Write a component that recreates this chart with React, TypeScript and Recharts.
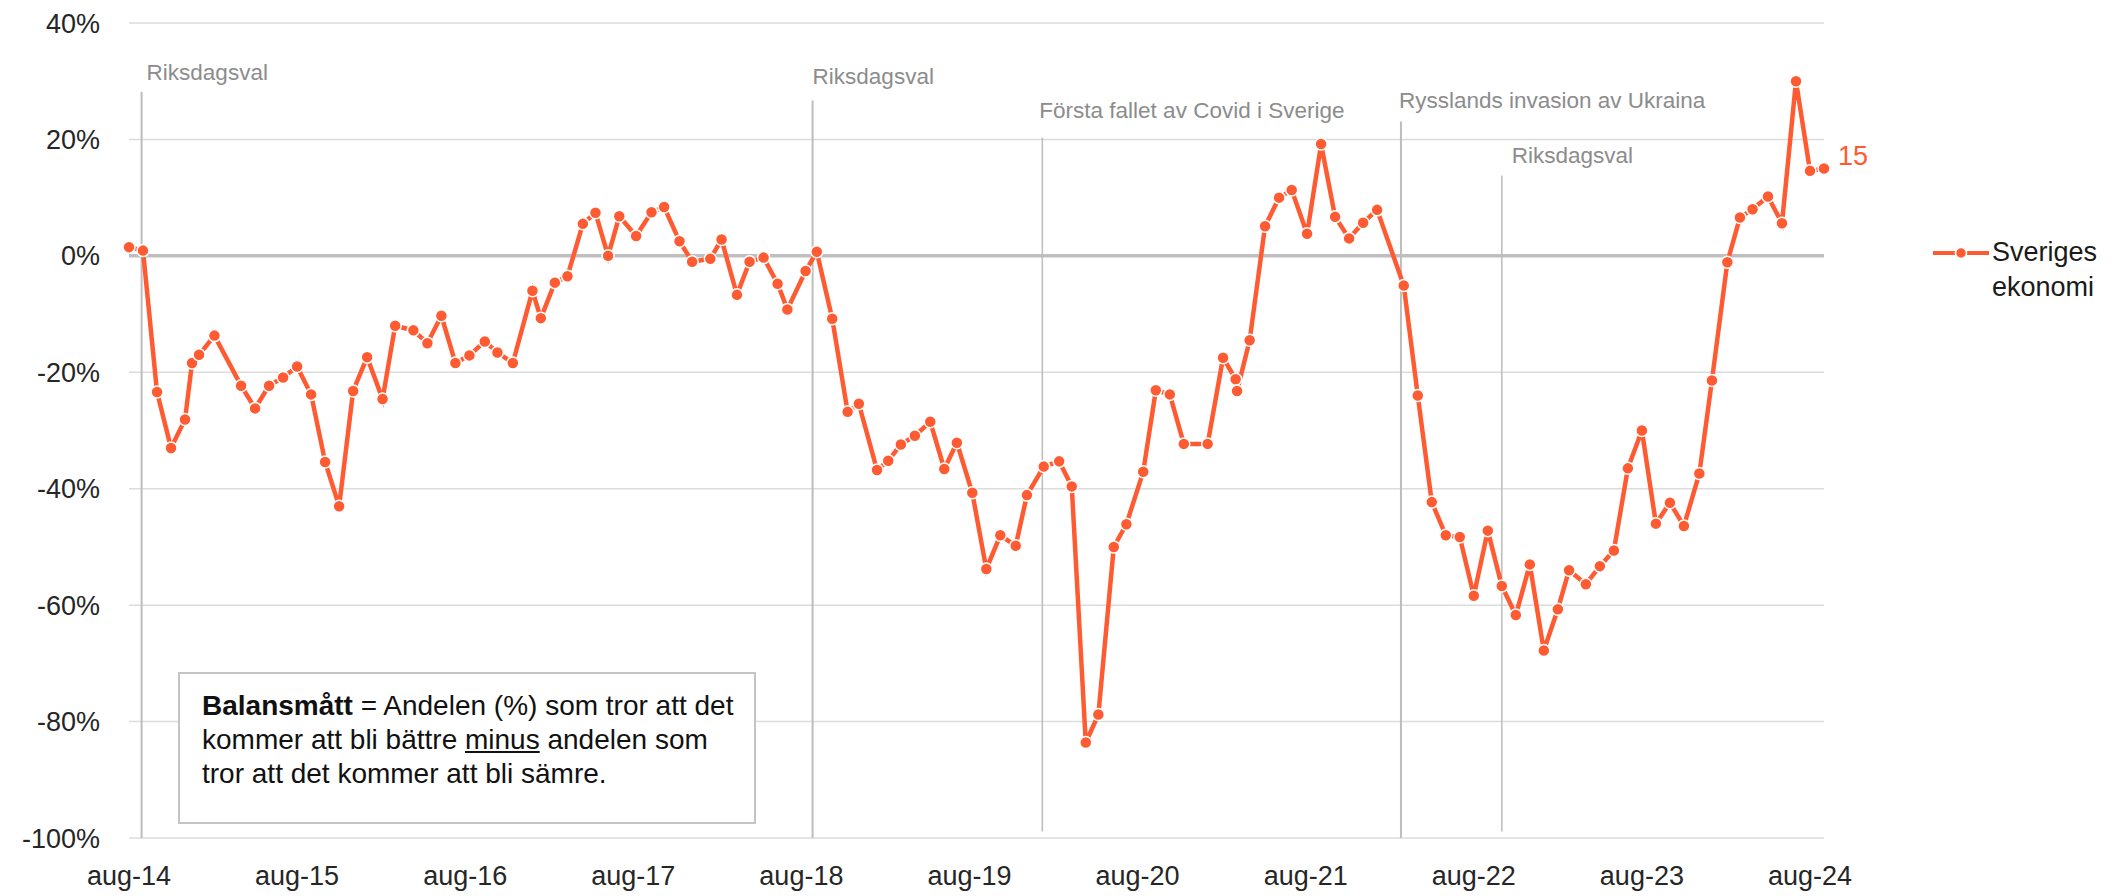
import { LineChart, Line, XAxis, YAxis, CartesianGrid, ReferenceLine } from 'recharts'

// survey date as months since aug-14
const months = [
  0, 1, 2, 3, 4, 4.5, 5, 6.1, 8, 9, 10, 11, 12, 13, 14, 15, 16, 17, 18.1, 19,
  20.3, 21.3, 22.3, 23.3, 24.3, 25.4, 26.3, 27.4, 28.8, 29.4, 30.4, 31.3, 32.4, 33.3, 34.2, 35, 36.2, 37.3, 38.2, 39.3,
  40.2, 41.5, 42.3, 43.4, 44.3, 45.3, 46.3, 47, 48.3, 49.1, 50.2, 51.3, 52.1, 53.4, 54.2, 55.1, 56.1, 57.2, 58.2, 59.1,
  60.2, 61.2, 62.2, 63.3, 64.1, 65.3, 66.4, 67.3, 68.3, 69.2, 70.3, 71.2, 72.4, 73.3, 74.3, 75.3, 77, 78.1, 79, 79.1,
  80, 81.1, 82.1, 83, 84.1, 85.1, 86.1, 87.1, 88.1, 89.1, 91, 92, 93, 94, 95, 96, 97, 98, 99, 100,
  101, 102, 102.8, 104, 105, 106, 107, 108, 109, 110, 111, 112.1, 113, 114.1, 115, 115.9, 117, 118, 119, 120,
  121,
]

// balansmått, Sveriges ekonomi (%)
const values = [
  1.5, 0.9, -23.4, -33, -28.1, -18.4, -17, -13.7, -22.3, -26.2, -22.3, -20.9, -19, -23.8, -35.4, -43, -23.2, -17.4, -24.6, -12,
  -12.8, -15, -10.3, -18.4, -17.1, -14.7, -16.6, -18.4, -6, -10.7, -4.6, -3.5, 5.5, 7.4, 0, 6.8, 3.4, 7.5, 8.4, 2.5,
  -1, -0.5, 2.8, -6.7, -1, -0.3, -4.8, -9.2, -2.6, 0.7, -10.8, -26.8, -25.4, -36.8, -35.2, -32.4, -30.9, -28.5, -36.6, -32.1,
  -40.7, -53.8, -48, -49.8, -41.1, -36.2, -35.3, -39.6, -83.6, -78.8, -50, -46.1, -37.1, -23.1, -23.8, -32.3, -32.3, -17.5, -21.2, -23.2,
  -14.5, 5.1, 10, 11.3, 3.8, 19.2, 6.7, 3, 5.7, 7.9, -5.1, -24, -42.3, -48, -48.3, -58.4, -47.2, -56.7, -61.7, -53,
  -67.8, -60.7, -54, -56.4, -53.3, -50.6, -36.5, -30, -46, -42.4, -46.4, -37.4, -21.4, -1.1, 6.6, 8, 10.2, 5.6, 30, 14.6,
  15,
]

const xTicks = [0, 12, 24, 36, 48, 60, 72, 84, 96, 108, 120]
const xTickLabels = ['aug-14', 'aug-15', 'aug-16', 'aug-17', 'aug-18', 'aug-19', 'aug-20', 'aug-21', 'aug-22', 'aug-23', 'aug-24']
const yTicks = [40, 20, 0, -20, -40, -60, -80, -100]

// händelser markerade med lodräta linjer
const eventNames = ['Riksdagsval', 'Riksdagsval', 'Första fallet av Covid i Sverige', 'Rysslands invasion av Ukraina', 'Riksdagsval']
const eventMonths = [0.9, 48.8, 65.2, 90.8, 98]
const eventTops = [28.2, 26.7, 20.3, 23.1, 13.8]
const eventBottoms = [-100, -100, -98.9, -100, -98.9]

// label placement relative to the top of each event line [dx, dy]
const eventLabelOffsets = [[5, -12], [0, -16], [-3, -20], [-2, -13], [10, -13]]
const eventLineWidths = [2, 2, 1.5, 2, 1.5]

const ORANGE = '#FF5B33'
const FONT = '"Liberation Sans", Arial, sans-serif'

const data = months.map((m, i) => ({ m, value: values[i] }))

function EndLabel(props: any) {
  const { x, y, index, value } = props
  if (index !== values.length - 1) return null
  return (
    <text x={x + 14} y={y - 13} dy="0.35em" fill={ORANGE} fontSize={27} fontFamily={FONT}>
      {value}
    </text>
  )
}

function eventLabel(i: number) {
  return (props: any) => {
    const vb = props.viewBox || {}
    const [dx, dy] = eventLabelOffsets[i]
    return (
      <text x={vb.x + dx} y={vb.y + dy} fill="#8c8c8c" fontSize={22.5} fontFamily={FONT}>
        {eventNames[i]}
      </text>
    )
  }
}

export default function App() {
  return (
    <div style={{ position: 'relative', width: 2116, height: 896, fontFamily: FONT, background: '#fff' }}>
      <style>{'body{margin:0}'}</style>
      <LineChart width={2116} height={896} data={data} margin={{ top: 23, right: 292, left: 0, bottom: 0 }}>
        <CartesianGrid vertical={false} stroke="#dcdcdc" strokeWidth={1.5} />
        <XAxis
          type="number"
          dataKey="m"
          domain={[0, 121]}
          ticks={xTicks}
          interval={0}
          tickFormatter={(v) => xTickLabels[xTicks.indexOf(v)]}
          axisLine={false}
          tickLine={false}
          tickSize={0}
          tickMargin={28}
          height={58}
          tick={{ fill: '#262626', fontSize: 27, fontFamily: FONT }}
        />
        <YAxis
          domain={[-100, 40]}
          ticks={yTicks}
          interval={0}
          tickFormatter={(v) => `${v}%`}
          axisLine={false}
          tickLine={false}
          tickSize={0}
          tickMargin={29}
          width={129}
          tick={{ fill: '#262626', fontSize: 27, fontFamily: FONT }}
        />
        <ReferenceLine y={0} stroke="#bfbfbf" strokeWidth={3.5} />
        {eventMonths.map((em, i) => (
          <ReferenceLine
            key={i}
            segment={[{ x: em, y: eventTops[i] }, { x: em, y: eventBottoms[i] }]}
            stroke="#bdbdbd"
            strokeWidth={eventLineWidths[i]}
            label={eventLabel(i)}
          />
        ))}
        <Line
          type="linear"
          dataKey="value"
          name="Sveriges ekonomi"
          stroke={ORANGE}
          strokeWidth={4.5}
          dot={{ r: 6, fill: ORANGE, stroke: '#fff', strokeWidth: 1.5 }}
          isAnimationActive={false}
          label={EndLabel}
        />
      </LineChart>

      {/* förklaring av balansmått */}
      <div
        style={{
          position: 'absolute',
          left: 178,
          top: 672,
          width: 578,
          height: 152,
          boxSizing: 'border-box',
          border: '2px solid #c4c4c4',
          background: '#fff',
          padding: '15px 0 0 22px',
          fontSize: 28,
          lineHeight: '34px',
          color: '#111',
        }}
      >
        <div><b>Balansmått</b> = Andelen (%) som tror att det</div>
        <div>kommer att bli bättre <u>minus</u> andelen som</div>
        <div>tror att det kommer att bli sämre.</div>
      </div>

      {/* legend */}
      <svg style={{ position: 'absolute', left: 1933, top: 247 }} width={56} height={12}>
        <line x1={0} y1={6} x2={56} y2={6} stroke={ORANGE} strokeWidth={4} />
        <circle cx={28} cy={6} r={5.5} fill={ORANGE} stroke="#fff" strokeWidth={1.5} />
      </svg>
      <div style={{ position: 'absolute', left: 1992, top: 235, fontSize: 27, lineHeight: '35px', color: '#1a1a1a' }}>
        Sveriges
        <br />
        ekonomi
      </div>
    </div>
  )
}
